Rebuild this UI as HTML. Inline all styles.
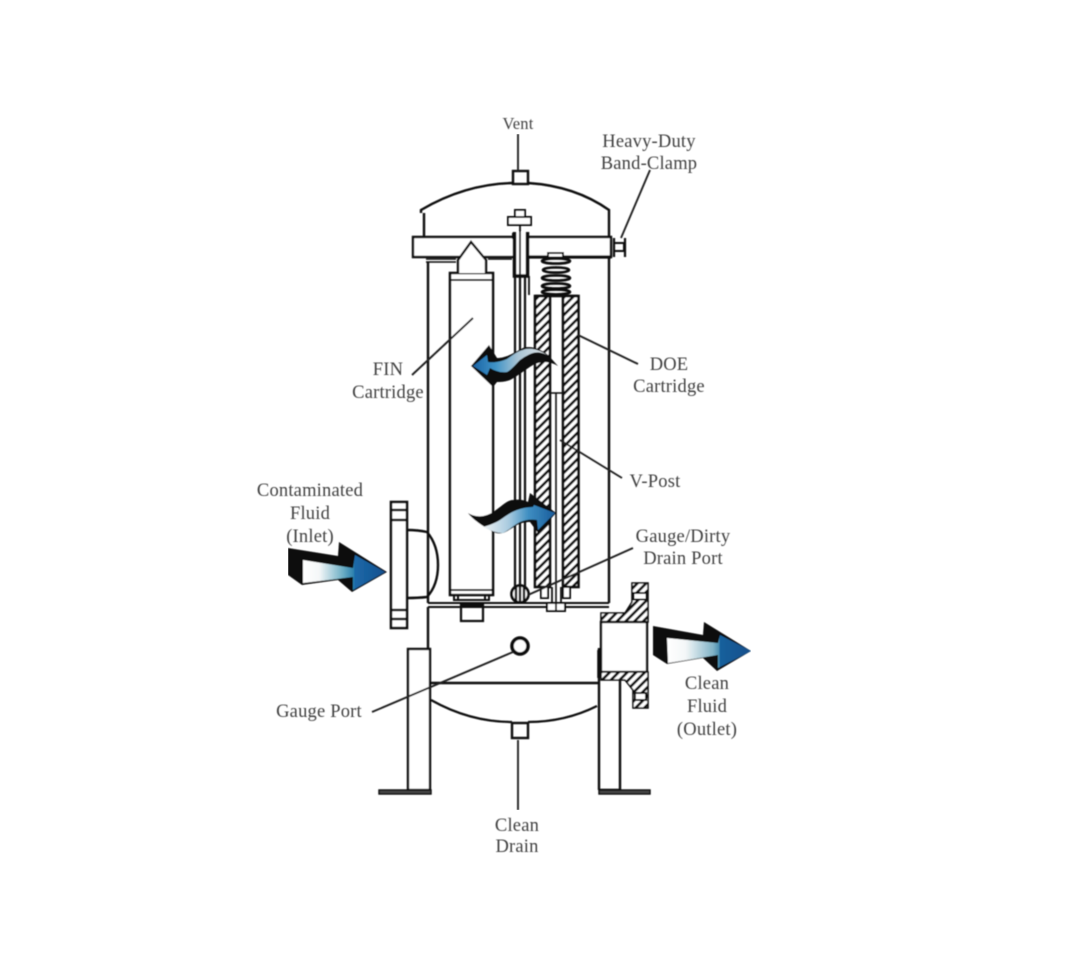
<!DOCTYPE html>
<html>
<head>
<meta charset="utf-8">
<style>
html,body{margin:0;padding:0;background:#fff;}
body{width:1080px;height:970px;overflow:hidden;}
svg{display:block;}
text{font-family:"Liberation Serif",serif;font-size:18.5px;letter-spacing:.2px;fill:#3f3f3f;text-anchor:middle;}
</style>
</head>
<body>
<svg width="1080" height="970" viewBox="0 0 1080 970" xmlns="http://www.w3.org/2000/svg">
<defs>
<pattern id="h" width="6.2" height="6.2" patternUnits="userSpaceOnUse" patternTransform="rotate(-45)">
<rect width="6.2" height="6.2" fill="#fff"/><rect width="6.2" height="2.7" fill="#111"/>
</pattern>
<linearGradient id="g1" x1="303" y1="0" x2="385" y2="0" gradientUnits="userSpaceOnUse">
<stop offset="0" stop-color="#fff"/><stop offset=".2" stop-color="#f4f7f8"/><stop offset=".48" stop-color="#6fb0c6"/><stop offset=".62" stop-color="#2a80ad"/><stop offset=".63" stop-color="#1c69a8"/><stop offset="1" stop-color="#14508f"/>
</linearGradient>
<linearGradient id="g2" x1="667" y1="0" x2="751" y2="0" gradientUnits="userSpaceOnUse">
<stop offset="0" stop-color="#fff"/><stop offset=".22" stop-color="#f4f7f8"/><stop offset=".55" stop-color="#7fb2c6"/><stop offset=".62" stop-color="#4a8fb0"/><stop offset=".63" stop-color="#17609c"/><stop offset="1" stop-color="#124f8c"/>
</linearGradient>
<linearGradient id="g3" x1="473" y1="0" x2="548" y2="0" gradientUnits="userSpaceOnUse">
<stop offset="0" stop-color="#1b64a6"/><stop offset=".3" stop-color="#3f93c6"/><stop offset=".6" stop-color="#a9c4d4"/><stop offset="1" stop-color="#e4e8ea"/>
</linearGradient>
<linearGradient id="g4" x1="483" y1="0" x2="556" y2="0" gradientUnits="userSpaceOnUse">
<stop offset="0" stop-color="#f0f3f5"/><stop offset=".35" stop-color="#a9cbdf"/><stop offset=".62" stop-color="#3f8fc2"/><stop offset="1" stop-color="#185a9a"/>
</linearGradient>
<filter id="b" x="0" y="0" width="100%" height="100%"><feGaussianBlur stdDeviation="0.5"/></filter>
</defs>

<g filter="url(#b)">
<g fill="none" stroke="#0c0c0c" stroke-width="2.4">
<!-- dome -->
<path d="M421 213 L421 210 Q465 184 513 183 M528 183 Q575 186 609 210 L609 237"/>
<path d="M424 213 L424 237"/>
<rect x="513" y="171" width="15" height="13" stroke-width="2.4"/>
<!-- flange band -->
<path d="M413 237 H611 V257 H413 Z" fill="#fff"/>
<path d="M520 257 H611" stroke-width="3.2"/>
<!-- clamp -->
<rect x="614" y="243" width="10" height="8" stroke-width="2"/>
<path d="M614 238 V257 M625 238 V257 M611 240 V257" stroke-width="2.2"/>
<!-- walls -->
<path d="M428 262 V603 M609 257 V603"/>
<path d="M426 259 H456 M426 262 H456 M488 259 H512" stroke-width="1.6"/>
<!-- FIN cartridge -->
<path d="M450 273 H493 V595 H450 Z" fill="#fff" stroke-width="2.6"/>
<path d="M450 280 H493 M450 590 H493" stroke-width="2"/>
<path d="M458 273 V260 L471 242 L486 260 V273" fill="#fff"/>
<path d="M454 595 V600 H489 V595 M458 600 V595 M485 600 V595" stroke-width="2"/>
<rect x="461" y="605" width="22" height="16" stroke-width="2.2"/>
<!-- plate -->
<path d="M428 603 H609 M428 607 H609" stroke-width="2"/>
<!-- central post -->
<path d="M515 270 V600 M520 270 V600 M525 270 V600" stroke-width="2.2"/>
<rect x="515" y="210" width="10" height="8" fill="#fff" stroke-width="2"/>
<rect x="508" y="217" width="23" height="8" fill="#fff" stroke-width="2"/>
<path d="M512 236 H529" stroke-width="6"/>
<path d="M514.500 232 V276 H527.500 V232" stroke-width="3.6" fill="#fff"/>
<path d="M520 225 V276 M529 276 V295" stroke-width="1.8"/>
<!-- spring -->
<rect x="548" y="253" width="15" height="4.500" fill="#fff" stroke-width="2"/>
<g stroke-width="2.6">
<ellipse cx="556" cy="261" rx="14" ry="2.6"/>
<ellipse cx="556" cy="270" rx="13" ry="2.6"/>
<ellipse cx="556" cy="278" rx="14" ry="2.6"/>
<ellipse cx="556" cy="286" rx="14" ry="2.6"/>
<ellipse cx="556" cy="292" rx="14" ry="2.4"/>
</g>
<!-- DOE cartridge -->
<rect x="535" y="296" width="15" height="291" fill="url(#h)" stroke-width="2.6"/>
<rect x="563" y="296" width="15.500" height="291" fill="url(#h)" stroke-width="2.6"/>
<path d="M535 296 H578" stroke-width="2.4"/>
<!-- V post -->
<path d="M550 393 H563 M556 393 V603" stroke-width="1.6"/>
<rect x="541" y="587" width="7" height="11" fill="#fff" stroke-width="2"/>
<rect x="563" y="587" width="7" height="11" fill="#fff" stroke-width="2"/>
<path d="M552 587 V603 M561 587 V603" stroke-width="1.8"/>
<rect x="547" y="603" width="18" height="8" fill="#fff" stroke-width="2"/>
<path d="M556 603 V611" stroke-width="2"/>
<!-- dirty port -->
<circle cx="520" cy="594" r="8.500" stroke-width="2.800" fill="#fff"/>
<path d="M516 587 V602 M520 586 V603 M524 587 V602" stroke-width="2.400"/>
<!-- inlet -->
<rect x="391" y="502" width="16" height="126" fill="#fff" stroke-width="2.6"/>
<path d="M391 510 H407 M391 520 H407 M391 610 H407 M391 619 H407" stroke-width="2.4"/>
<path d="M407 530 Q418 530 427 532 Q438 545 438 565 Q438 585 427 597 Q418 598 407 598" stroke-width="2.4"/>
<!-- lower body -->
<path d="M428 607 V649"/>
<rect x="408" y="649" width="22" height="141" fill="#fff" stroke-width="2.4"/>
<rect x="379" y="790" width="52" height="4" fill="#444" stroke-width="1.4"/>
<path d="M430 683 H598" stroke-width="2.4"/>
<path d="M431 700 Q470 722 512 722 M528 722 Q565 722 597 706" stroke-width="2.2"/>
<rect x="512" y="723" width="16" height="15" stroke-width="2.4"/>
<!-- right leg / outlet -->
<path d="M599 648 V790 M620 680 V790 M599 790 H620" stroke-width="2.4"/>
<rect x="599" y="790" width="51" height="4" fill="#444" stroke-width="1.4"/>
<path d="M599 650 V678" stroke-width="3.5"/>
<!-- outlet hatch -->
<path d="M601 613 H625 L632 602 V583 H648 V622 H601 Z" fill="url(#h)" stroke-width="1.6"/>
<rect x="633.500" y="593" width="13" height="6.500" fill="#fff" stroke-width="2"/>
<rect x="601" y="622" width="46" height="50" fill="#fff" stroke-width="2.4"/>
<path d="M601 672 H648 V708 H633 V690 L625 680 H601 Z" fill="url(#h)" stroke-width="1.6"/>
<rect x="635" y="693" width="11" height="7" fill="#fff" stroke-width="2"/>
<!-- gauge port -->
<circle cx="520" cy="646" r="8" stroke-width="3.6" fill="#fff"/>
</g>

<!-- leaders -->
<g fill="none" stroke="#222" stroke-width="1.9">
<path d="M518 134 V171"/>
<path d="M650 170 L621 238"/>
<path d="M412 375 L473 318"/>
<path d="M578 335 L638 364"/>
<path d="M560 440 L622 478"/>
<path d="M633 548 L528 595"/>
<path d="M372 712 L513 652"/>
<path d="M518 740 V810"/>
</g>

<!-- big arrows -->
<polygon points="288,548 338,556 339,542 387,572 352,592 338,580 302,585 288,575" fill="#0a0a0a"/>
<polygon points="303,560 353,568 355,555 385,572 353,590 353,577 303,583" fill="url(#g1)"/>
<polygon points="653,626 703,635 704,622 751,651 717,671 703,658 667,664 653,655" fill="#0a0a0a"/>
<polygon points="667,638 718,643 720,635 751,651 718,668 718,655 668,663" fill="url(#g2)"/>

<!-- wavy arrows -->
<path d="M471 366 L489 345 L497 358 C507 358 515 352 523 348 C531 345 543 350 548 355 L558 366 C550 361 541 361 533 365 C526 369 518 376 510 380 C505 382 500 382 497 382 L493 387 Z" fill="#0a0a0a"/>
<path d="M473 366 L487 355 L488 362 C496 363 502 361 507 359 C513 355 518 351 523 350 C530 347 540 350 547 355 C541 352 537 352 533 353 C527 355 523 358 520 360 C515 365 511 370 507 372 C501 373 495 371 490 368 L487 375 Z" fill="url(#g3)"/>
<path d="M468 513 C475 517 481 517 487 515 C493 513 497 509 500 507 C505 503 509 500 513 500 C519 499 524 500 528 502 L530 493 L556 513 L538 533 L530 522 C525 522 521 523 517 525 C512 528 508 531 503 533 C498 534 494 533 490 530 C484 527 472 519 468 513 Z" fill="#0a0a0a"/>
<path d="M483 527 C490 525 495 523 500 520 C506 516 511 512 517 510 C522 508 528 507 533 507 L534 505 L555 513 L538 530 L537 520 C530 519 525 520 520 522 C514 525 509 530 503 533 C496 533 489 530 483 527 Z" fill="url(#g4)"/>
</g>

<!-- labels -->
<g filter="url(#b)">
<text x="518" y="129" style="font-size:16.500px">Vent</text>
<text x="649" y="147">Heavy-Duty</text>
<text x="649" y="169">Band-Clamp</text>
<text x="388" y="375">FIN</text>
<text x="388" y="398">Cartridge</text>
<text x="669" y="370">DOE</text>
<text x="669" y="392">Cartridge</text>
<text x="655" y="487">V-Post</text>
<text x="683" y="542">Gauge/Dirty</text>
<text x="683" y="564">Drain Port</text>
<text x="310" y="496">Contaminated</text>
<text x="310" y="519">Fluid</text>
<text x="310" y="542">(Inlet)</text>
<text x="319" y="717">Gauge Port</text>
<text x="707" y="689">Clean</text>
<text x="707" y="712">Fluid</text>
<text x="707" y="735">(Outlet)</text>
<text x="517" y="831">Clean</text>
<text x="517" y="852">Drain</text>
</g>
</svg>
</body>
</html>
